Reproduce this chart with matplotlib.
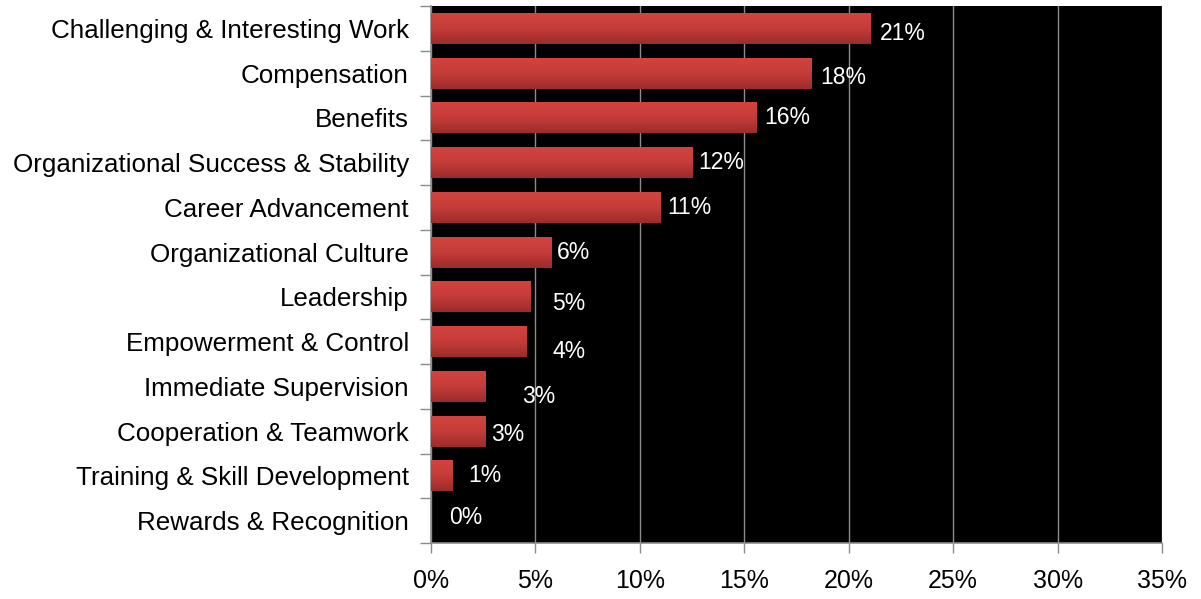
#!/usr/bin/env python3
"""
Horizontal bar chart: drivers ranked by share of responses
"""

import numpy as np
import matplotlib
matplotlib.use('Agg')
import matplotlib.pyplot as plt
from matplotlib.colors import LinearSegmentedColormap
from matplotlib.ticker import FixedLocator

categories = [
    'Challenging & Interesting Work',
    'Compensation',
    'Benefits',
    'Organizational Success & Stability',
    'Career Advancement',
    'Organizational Culture',
    'Leadership',
    'Empowerment & Control',
    'Immediate Supervision',
    'Cooperation & Teamwork',
    'Training & Skill Development',
    'Rewards & Recognition',
]
values = [21.05, 18.2, 15.6, 12.5, 11.0, 5.75, 4.75, 4.55, 2.6, 2.6, 1.05, 0.0]
value_labels = ['21%', '18%', '16%', '12%', '11%', '6%', '5%', '4%', '3%', '3%', '1%', '0%']
x_ticks = [0, 5, 10, 15, 20, 25, 30, 35]
x_tick_labels = ['0%', '5%', '10%', '15%', '20%', '25%', '30%', '35%']

# per-label nudges in pixels (dx, dy), mimicking the hand-placed labels
label_nudge = [(9, -5), (9, -4), (7, 0), (6, 0), (7, 0), (6, 0),
               (22, -7), (26, -10), (37, -10), (6, -3), (15, 0), (18, 3)]

plt.rcParams['font.family'] = ['Liberation Sans', 'DejaVu Sans']

fig = plt.figure(figsize=(12.01, 5.99), dpi=100)
ax = fig.add_axes([431 / 1201, 1 - 543 / 599, 731 / 1201, 537 / 599])
ax.set_facecolor('black')

n = len(categories)
y = np.arange(n)
bars = ax.barh(y, values, height=0.69, color='none', edgecolor='none', zorder=3)

# vertical gradient inside each bar (light red on top, darker below)
grad_cmap = LinearSegmentedColormap.from_list('redgrad', ['#d3433f', '#c43c39', '#9c2c2b'])
grad = np.linspace(0, 1, 64).reshape(-1, 1)
for b in bars:
    w = b.get_width()
    if w <= 0:
        continue
    y0 = b.get_y()
    h = b.get_height()
    ax.imshow(grad, cmap=grad_cmap, aspect='auto', interpolation='bilinear',
              extent=(0, w, y0, y0 + h), origin='lower', zorder=3)

ax.set_xlim(0, 35)
ax.set_ylim(n - 0.5, -0.5)

for i, (v, lab) in enumerate(zip(values, value_labels)):
    dx, dy = label_nudge[i]
    ax.annotate(lab, xy=(v, i), xytext=(dx * 0.72, dy * 0.72), textcoords='offset points',
                ha='left', va='center', color='white', fontsize=16.5, zorder=4)

ax.set_yticks(y)
ax.set_yticklabels(categories, fontsize=18.7)
ax.yaxis.set_minor_locator(FixedLocator(np.arange(-0.5, n, 1.0)))
ax.tick_params(axis='y', which='major', length=0, pad=16)
ax.tick_params(axis='y', which='minor', length=8, width=1, color='#8c8c8c', direction='out')

ax.set_xticks(x_ticks)
ax.set_xticklabels(x_tick_labels, fontsize=18)
ax.tick_params(axis='x', which='major', length=7, width=1, color='#8c8c8c', pad=12, direction='out')

ax.grid(axis='x', color='#8c8c8c', linewidth=1, zorder=1)
ax.set_axisbelow(True)

for side in ['top', 'right']:
    ax.spines[side].set_visible(False)
for side in ['left', 'bottom']:
    ax.spines[side].set_color('#8c8c8c')
    ax.spines[side].set_linewidth(1.2)

plt.savefig('out.png', dpi=100)
